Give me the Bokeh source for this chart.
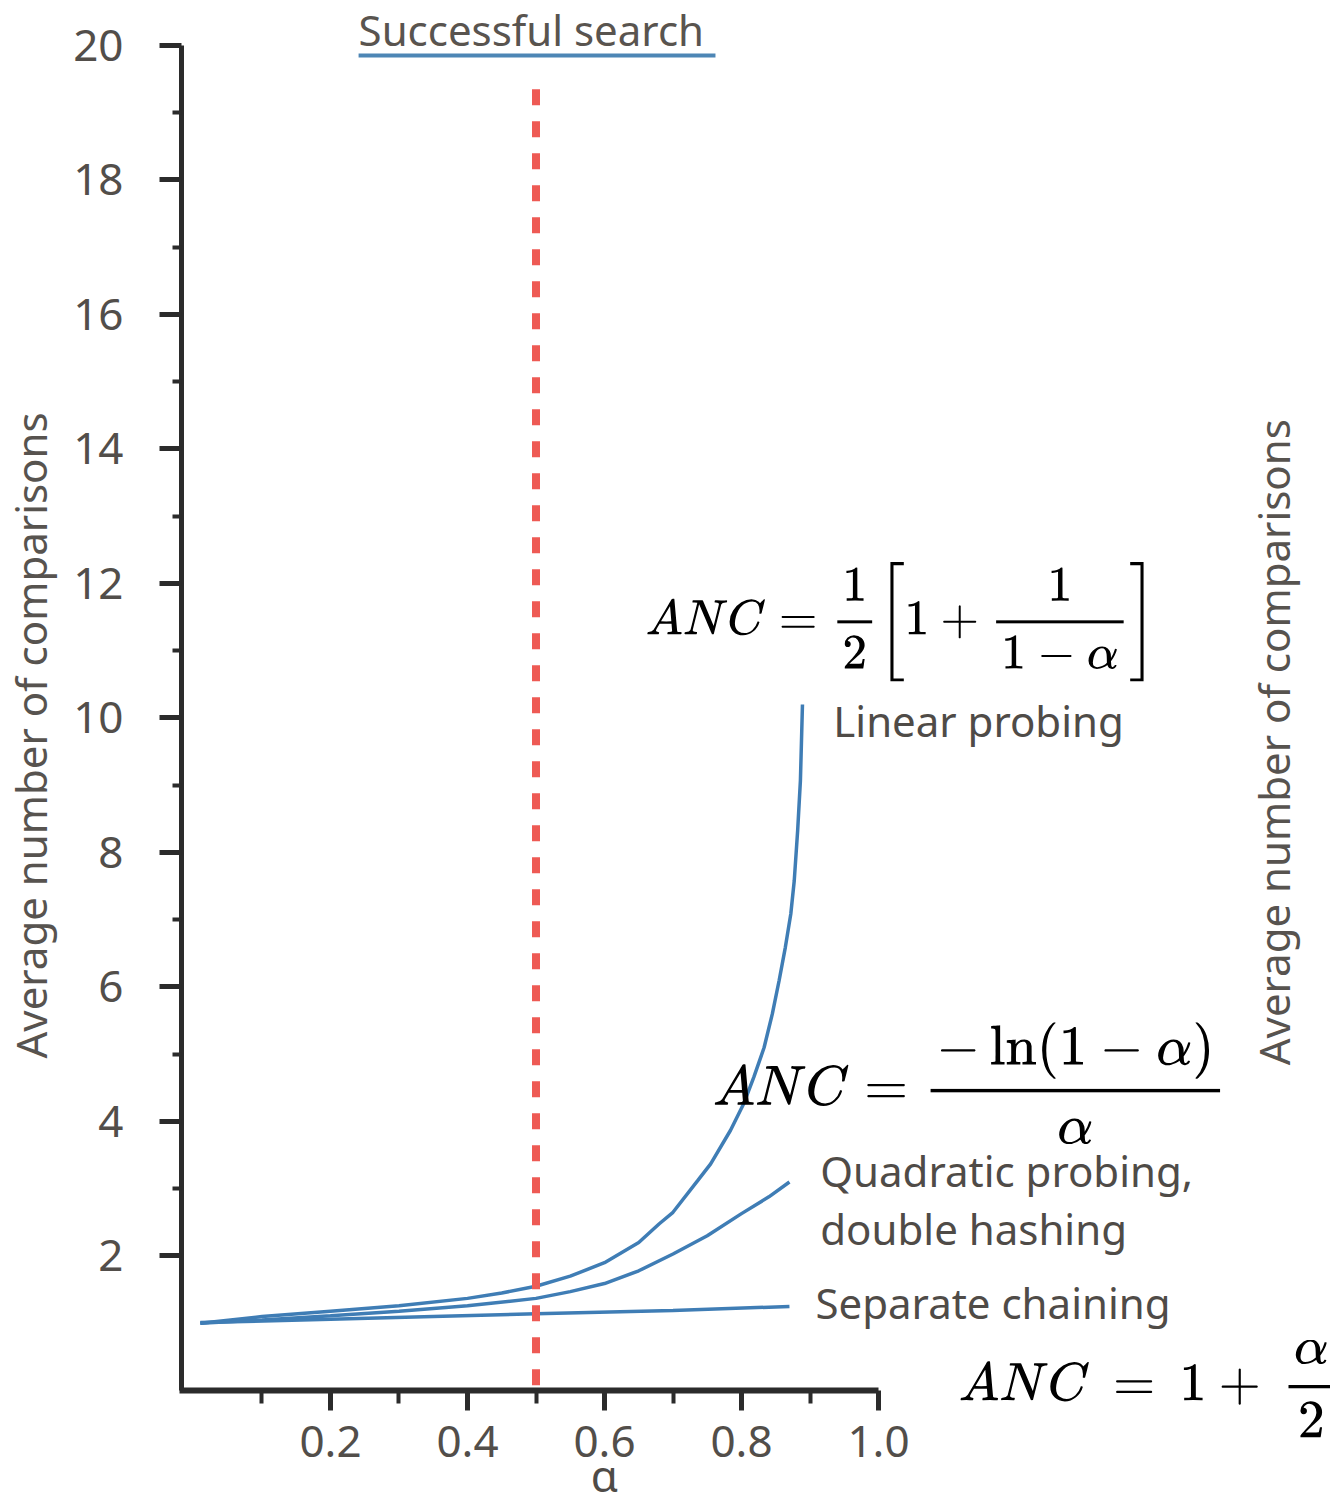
from bokeh.plotting import figure
from bokeh.models import Label, FixedTicker, LinearAxis, TeX
from bokeh.embed import file_html
from bokeh.resources import INLINE

# ---- data ----
alpha_linear = [0.01, 0.1, 0.2, 0.3, 0.4, 0.45, 0.5, 0.55, 0.6, 0.65, 0.68, 0.70, 0.736, 0.755, 0.784,
                0.803, 0.818, 0.833, 0.845, 0.855, 0.864, 0.872, 0.877, 0.882, 0.886, 0.889]
anc_linear = [1.0, 1.1, 1.18, 1.26, 1.37, 1.45, 1.55, 1.7, 1.9, 2.2, 2.48, 2.65, 3.12, 3.37, 3.87,
              4.26, 4.66, 5.1, 5.6, 6.1, 6.59, 7.09, 7.58, 8.33, 9.07, 10.2]

alpha_quad = [0.01, 0.1, 0.2, 0.3, 0.4, 0.5, 0.55, 0.6, 0.65, 0.7, 0.75, 0.8, 0.84, 0.87]
anc_quad = [1.0, 1.05, 1.11, 1.18, 1.26, 1.37, 1.47, 1.59, 1.78, 2.03, 2.3, 2.63, 2.88, 3.1]

alpha_sep = [0.01, 0.2, 0.35, 0.5, 0.7, 0.87]
anc_sep = [1.01, 1.06, 1.10, 1.14, 1.19, 1.25]

marker_alpha = [0.5, 0.5]
marker_span = [19.35, 0.0]

y_ticks_major = [2, 4, 6, 8, 10, 12, 14, 16, 18, 20]
y_ticks_minor = [3, 5, 7, 9, 11, 13, 15, 17, 19]
x_ticks_major = [0.2, 0.4, 0.6, 0.8, 1.0]
x_ticks_minor = [0.1, 0.3, 0.5, 0.7, 0.9]
x_tick_labels = {0.2: "0.2", 0.4: "0.4", 0.6: "0.6", 0.8: "0.8", 1.0: "1.0"}

title_text = "Successful search"
y_label_text = "Average number of comparisons"
x_label_text = "α"
curve_labels = ["Linear probing", "Quadratic probing,", "double hashing", "Separate chaining"]
formula_linear = r"ANC = \frac{1}{2}\left[1+\frac{1}{1-\alpha}\right]"
formula_quad = r"ANC = \frac{-\ln(1-\alpha)}{\alpha}"
formula_sep = r"ANC \,=\, 1 +\, \frac{\alpha}{2}"

FONT = "Noto Sans"
TXT = "#4f4b47"
BLUE = "#3f7db5"
AXIS = "#2b2b2b"

p = figure(width=1330, height=1505, x_range=(-0.28175, 1.65985), y_range=(-1.71004, 20.6691),
           output_backend="svg", toolbar_location=None,
           x_axis_location=None, y_axis_location=None,
           min_border_left=0, min_border_right=0, min_border_top=0, min_border_bottom=0)
p.outline_line_color = None
p.xgrid.visible = False
p.ygrid.visible = False
p.background_fill_color = "white"
p.border_fill_color = "white"

yaxis = LinearAxis(fixed_location=-0.0175, bounds=(0, 20),
                   ticker=FixedTicker(ticks=y_ticks_major, minor_ticks=y_ticks_minor))
xaxis = LinearAxis(fixed_location=0, bounds=(-0.021, 1.0),
                   ticker=FixedTicker(ticks=x_ticks_major, minor_ticks=x_ticks_minor),
                   major_label_overrides=x_tick_labels)
for ax in (xaxis, yaxis):
    ax.axis_line_color = AXIS
    ax.major_tick_line_color = AXIS
    ax.minor_tick_line_color = AXIS
    ax.major_tick_in = 0
    ax.minor_tick_in = 0
    ax.major_label_text_font = FONT
    ax.major_label_text_font_size = "44px"
    ax.major_label_text_color = "#524e4a"
yaxis.axis_line_width = 5
yaxis.major_tick_line_width = 5
yaxis.minor_tick_line_width = 4
yaxis.major_tick_out = 22
yaxis.minor_tick_out = 9
yaxis.major_label_standoff = 36
xaxis.axis_line_width = 6
xaxis.major_tick_line_width = 5
xaxis.minor_tick_line_width = 4
xaxis.major_tick_out = 20
xaxis.minor_tick_out = 13
xaxis.major_label_standoff = 16
p.add_layout(yaxis, "left")
p.add_layout(xaxis, "below")

# curves
p.line(alpha_linear, anc_linear, line_color=BLUE, line_width=3.5)
p.line(alpha_quad, anc_quad, line_color=BLUE, line_width=3.5)
p.line(alpha_sep, anc_sep, line_color=BLUE, line_width=3.5)

# red dashed marker
p.line(marker_alpha, marker_span, line_color="#ee5a54", line_width=8, line_dash="16 16")

# title and underline
p.add_layout(Label(x=0.241, y=20.24, text=title_text, text_font=FONT, text_font_size="42px",
                   text_color="#59544f", text_align="left", text_baseline="alphabetic"))
p.line([0.241, 0.762], [19.85, 19.85], line_color="#4d86b5", line_width=4)

# axis labels
p.add_layout(Label(x=-0.238, y=9.74, text=y_label_text, angle=90, angle_units="deg",
                   text_font=FONT, text_font_size="42px", text_color="#57534f",
                   text_align="center", text_baseline="middle"))
p.add_layout(Label(x=0.6, y=-1.26, text=x_label_text, text_font=FONT, text_font_size="44px",
                   text_color=TXT, text_align="center", text_baseline="middle"))

# neighbouring chart's axis title (cut off on the right)
p.add_layout(Label(x=1.577, y=9.64, text=y_label_text, angle=90, angle_units="deg",
                   text_font=FONT, text_font_size="42px", text_color="#57534f",
                   text_align="center", text_baseline="middle"))

# curve labels
label_pos = [(0.934, 9.965), (0.915, 3.274), (0.915, 2.41), (0.908, 1.31)]
for txt, (lx, ly) in zip(curve_labels, label_pos):
    p.add_layout(Label(x=lx, y=ly, text=txt, text_font=FONT, text_font_size="42px",
                       text_color=TXT, text_align="left", text_baseline="alphabetic"))

# formulas
p.add_layout(Label(x=0.66, y=11.43, text=TeX(text=formula_linear), text_font_size="40.5px",
                   text_color="black", text_align="left", text_baseline="middle"))
p.add_layout(Label(x=0.758, y=4.57, text=TeX(text=formula_quad), text_font_size="47px",
                   text_color="black", text_align="left", text_baseline="middle"))
p.add_layout(Label(x=1.117, y=0.03, text=TeX(text=formula_sep), text_font_size="44px",
                   text_color="black", text_align="left", text_baseline="middle"))

open("out.html", "w").write(file_html(p, INLINE))
